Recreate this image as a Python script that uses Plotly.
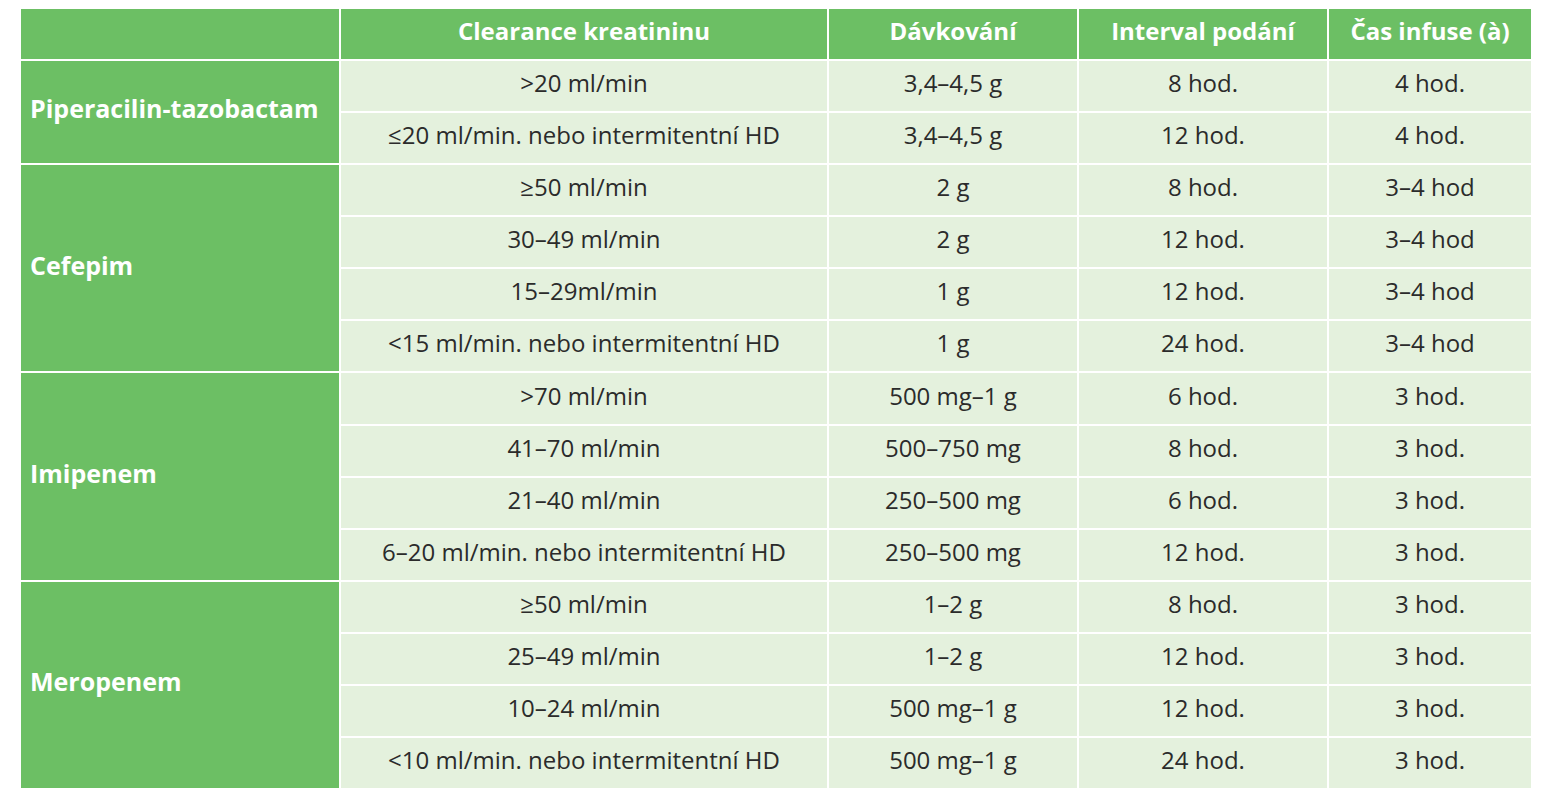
import plotly.graph_objects as go

headers = ["", "Clearance kreatininu", "Dávkování", "Interval podání", "Čas infuse (à)"]
drugs = ["Piperacilin-tazobactam", "Cefepim", "Imipenem", "Meropenem"]
group_sizes = [2, 4, 4, 4]
clearance = [">20 ml/min", "≤20 ml/min. nebo intermitentní HD",
             "≥50 ml/min", "30–49 ml/min", "15–29ml/min", "<15 ml/min. nebo intermitentní HD",
             ">70 ml/min", "41–70 ml/min", "21–40 ml/min", "6–20 ml/min. nebo intermitentní HD",
             "≥50 ml/min", "25–49 ml/min", "10–24 ml/min", "<10 ml/min. nebo intermitentní HD"]
dose = ["3,4–4,5 g", "3,4–4,5 g", "2 g", "2 g", "1 g", "1 g",
        "500 mg–1 g", "500–750 mg", "250–500 mg", "250–500 mg",
        "1–2 g", "1–2 g", "500 mg–1 g", "500 mg–1 g"]
interval = ["8 hod.", "12 hod.", "8 hod.", "12 hod.", "12 hod.", "24 hod.",
            "6 hod.", "8 hod.", "6 hod.", "12 hod.",
            "8 hod.", "12 hod.", "12 hod.", "24 hod."]
infusion = ["4 hod.", "4 hod.", "3–4 hod", "3–4 hod", "3–4 hod", "3–4 hod",
            "3 hod.", "3 hod.", "3 hod.", "3 hod.",
            "3 hod.", "3 hod.", "3 hod.", "3 hod."]

col_widths = [320, 488, 250, 250, 204]
col_starts = [sum(col_widths[:i]) for i in range(len(col_widths))]
GREEN = "#6cbf64"
LIGHT = "#e4f1dd"
TXT = "#2b2b2b"
FONT = "Open Sans"

fig = go.Figure()
n = len(clearance)
fig.add_trace(go.Bar(orientation="h", y=[0]*5, x=col_widths, base=col_starts, width=1,
                     marker=dict(color=GREEN, line=dict(color="white", width=2)),
                     hoverinfo="skip", showlegend=False))
centers, start = [], 1
for s in group_sizes:
    centers.append(start + (s - 1) / 2)
    start += s
fig.add_trace(go.Bar(orientation="h", y=centers, x=[col_widths[0]]*len(drugs), base=[0]*len(drugs),
                     width=group_sizes, marker=dict(color=GREEN, line=dict(color="white", width=2)),
                     hoverinfo="skip", showlegend=False))
rows = list(range(1, n + 1))
for c in range(1, 5):
    fig.add_trace(go.Bar(orientation="h", y=rows, x=[col_widths[c]]*n, base=[col_starts[c]]*n, width=1,
                         marker=dict(color=LIGHT, line=dict(color="white", width=2)),
                         hoverinfo="skip", showlegend=False))
fig.add_trace(go.Scatter(x=[col_starts[c] + col_widths[c]/2 for c in range(1, 5)], y=[0]*4,
                         text=["<b>%s</b>" % h for h in headers[1:]], mode="text",
                         textfont=dict(color="white", size=24, family=FONT), hoverinfo="skip", showlegend=False))
fig.add_trace(go.Scatter(x=[10]*len(drugs), y=centers, text=["<b>%s</b>" % d for d in drugs],
                         mode="text", textposition="middle right",
                         textfont=dict(color="white", size=25, family=FONT), hoverinfo="skip", showlegend=False))
for c, vals in zip(range(1, 5), [clearance, dose, interval, infusion]):
    fig.add_trace(go.Scatter(x=[col_starts[c] + col_widths[c]/2]*n, y=rows, text=vals, mode="text",
                             textfont=dict(color=TXT, size=24, family=FONT), hoverinfo="skip", showlegend=False))

fig.update_layout(width=1547, height=800, margin=dict(l=12, r=23, t=0, b=19),
                  plot_bgcolor="white", paper_bgcolor="white", barmode="overlay", bargap=0)
fig.update_xaxes(range=[0, sum(col_widths)], visible=False, fixedrange=True)
fig.update_yaxes(range=[n + 0.5, -0.5], visible=False, fixedrange=True)
fig.write_html("out.html")
